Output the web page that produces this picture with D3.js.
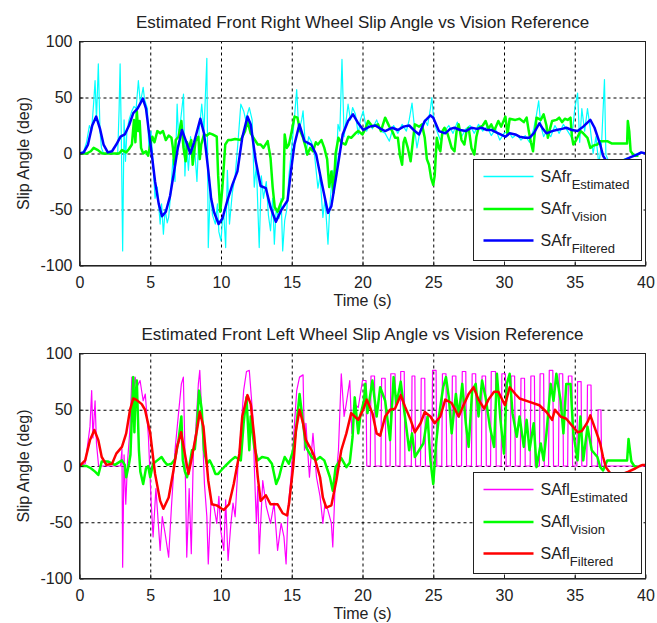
<!DOCTYPE html>
<html>
<head>
<meta charset="utf-8">
<script src="https://cdn.jsdelivr.net/npm/d3@7/dist/d3.min.js"></script>
<style>
  body { margin: 0; background: #fff; }
  svg text { font-family: "Liberation Sans", Arial, sans-serif; fill: #222; }
</style>
</head>
<body>
<div id="chart"></div>
<script>
// Data as [time (s), slip angle (deg)]
var xTicks = [0, 5, 10, 15, 20, 25, 30, 35, 40];
var yTicks = [-100, -50, 0, 50, 100];

var frEstimated = [[0,0],[0.3,2],[0.5,10],[0.7,25],[0.85,20],[1.0,45],[1.1,65],[1.2,30],[1.33,80],[1.45,20],[1.55,5],[1.7,0],[2.7,0],[2.8,40],[2.87,80],[2.95,20],[3.05,-87],[3.15,30],[3.25,-7],[3.35,20],[3.5,30],[3.7,38],[3.85,42],[4.0,40],[4.16,65],[4.3,45],[4.5,59],[4.6,48],[4.8,40],[4.9,5],[5.05,20],[5.2,-10],[5.34,-40],[5.5,-30],[5.7,-63],[5.8,-45],[5.93,-72],[6.05,-50],[6.2,-62],[6.3,-57],[6.45,-35],[6.6,-5],[6.75,-25],[6.9,44],[7.0,15],[7.15,30],[7.35,53],[7.45,-20],[7.55,10],[7.7,-15],[7.85,15],[8.0,-5],[8.1,10],[8.3,-25],[8.45,20],[8.64,44],[8.8,20],[9.0,85],[9.1,-84],[9.25,-30],[9.4,-55],[9.6,-63],[9.75,-45],[9.85,-70],[10.0,-78],[10.1,-60],[10.2,-55],[10.33,-84],[10.45,-15],[10.6,-63],[10.8,-35],[11.0,-20],[11.2,10],[11.4,44],[11.6,38],[11.75,30],[12.0,41],[12.2,30],[12.35,-30],[12.5,-10],[12.7,-84],[12.85,-20],[13.0,-40],[13.2,-25],[13.35,-55],[13.5,-69],[13.65,-40],[13.77,-81],[13.9,-50],[14.1,-58],[14.25,-40],[14.36,-87],[14.5,-60],[14.65,-50],[14.8,-20],[15.0,5],[15.19,32],[15.35,57],[15.5,20],[15.7,30],[15.8,38],[16.0,0],[16.2,15],[16.4,10],[16.6,0],[16.85,-31],[17.0,-20],[17.2,-57],[17.35,-40],[17.56,-81],[17.7,-45],[17.9,-15],[18.1,-25],[18.27,26],[18.4,20],[18.55,84],[18.7,15],[18.98,44],[19.15,30],[19.3,41],[19.5,35],[19.7,17],[19.85,30],[20.05,38],[20.3,20],[20.5,28],[20.7,22],[21.0,30],[21.3,20],[21.6,18],[21.9,11],[22.2,25],[22.5,18],[22.8,26],[23.1,20],[23.3,30],[23.5,45],[23.7,20],[23.85,5],[24.1,22],[24.4,30],[24.6,25],[24.8,40],[24.9,50],[25.0,35],[25.2,22],[25.5,12],[25.8,20],[26.1,25],[26.4,18],[26.7,28],[27.0,15],[27.3,22],[27.6,25],[27.9,18],[28.2,26],[28.5,20],[28.8,24],[29.1,16],[29.4,22],[29.7,12],[30.0,18],[30.3,20],[30.6,14],[30.9,17],[31.2,12],[31.5,16],[31.8,10],[32.1,22],[32.3,35],[32.45,47],[32.6,25],[32.8,15],[33.0,20],[33.3,15],[33.6,25],[33.9,18],[34.2,26],[34.5,20],[34.8,14],[35.0,40],[35.2,54],[35.35,10],[35.5,40],[35.7,20],[35.9,40],[36.1,22],[36.3,0],[36.5,15],[36.7,-10],[36.9,10],[37.1,66],[37.2,-1],[37.5,-10],[38.0,-8],[38.5,-5],[39.0,-3],[39.4,0],[40,0]];

var frVision = [[0,0],[0.5,0],[0.8,2],[1.0,5],[1.3,3],[1.6,0],[2.8,0],[3.0,3],[3.3,1],[3.5,4],[3.7,8],[3.85,30],[3.95,10],[4.05,38],[4.15,20],[4.25,29],[4.35,5],[4.5,0],[4.7,2],[4.85,-2],[5.0,8],[5.15,15],[5.3,10],[5.5,20],[5.7,18],[5.9,20],[6.1,12],[6.3,16],[6.5,14],[6.6,5],[6.7,-10],[6.8,12],[7.0,15],[7.2,29],[7.35,5],[7.5,-7],[7.6,10],[7.7,5],[7.9,12],[8.0,-10],[8.2,11],[8.4,15],[8.5,-5],[8.6,8],[8.8,17],[9.0,16],[9.2,18],[9.4,17],[9.7,15],[9.8,-20],[9.95,-52],[10.1,-30],[10.3,8],[10.5,12],[10.7,12],[11.0,13],[11.4,12],[11.7,20],[11.87,29],[12.1,18],[12.3,14],[12.6,8],[12.8,8],[13.0,5],[13.3,11],[13.5,-4],[13.65,-30],[13.8,-48],[14.0,-52],[14.2,-45],[14.4,-40],[14.5,17],[14.65,5],[14.8,8],[15.0,20],[15.2,33],[15.4,32],[15.6,20],[15.8,14],[16.0,5],[16.1,-1],[16.3,5],[16.5,2],[16.7,10],[16.85,8],[17.1,12],[17.3,5],[17.5,-5],[17.65,-30],[17.8,-16],[17.95,-35],[18.1,0],[18.3,14],[18.5,10],[18.8,8],[19.0,15],[19.2,14],[19.5,18],[19.7,20],[20.0,17],[20.2,22],[20.4,29],[20.7,24],[21.1,26],[21.3,20],[21.6,32],[21.9,24],[22.1,20],[22.3,14],[22.5,14],[22.65,-2],[22.8,-10],[22.9,10],[23.0,14],[23.2,5],[23.4,-7],[23.55,10],[23.7,26],[24.0,24],[24.2,26],[24.4,14],[24.55,-5],[24.7,-10],[24.85,-22],[25.0,-28],[25.1,-20],[25.25,14],[25.4,5],[25.5,2],[25.65,20],[25.8,23],[26.0,18],[26.1,14],[26.3,5],[26.5,2],[26.65,20],[26.8,26],[27.0,12],[27.2,8],[27.35,20],[27.5,23],[27.7,5],[27.9,-1],[28.05,15],[28.2,23],[28.5,25],[28.7,29],[28.9,22],[29.1,26],[29.3,20],[29.6,29],[29.8,24],[30.1,33],[30.25,17],[30.4,31],[30.8,30],[31.1,31],[31.4,28],[31.6,32],[31.75,20],[31.9,10],[32.05,2],[32.15,15],[32.3,32],[32.6,30],[32.8,35],[33.0,25],[33.1,14],[33.25,22],[33.4,29],[33.7,30],[33.9,32],[34.1,28],[34.3,31],[34.5,30],[34.7,32],[34.8,15],[34.9,8],[35.1,12],[35.4,20],[35.6,18],[35.9,14],[36.1,5],[36.3,7],[36.6,8],[36.8,11],[37.1,11],[37.3,11],[37.6,9],[38.0,9],[38.4,9],[38.7,9],[38.75,29],[38.85,20],[38.95,2],[39.2,-2],[39.5,-2]];

var frFiltered = [[0,0],[0.3,1],[0.6,8],[0.9,25],[1.18,33],[1.45,22],[1.7,8],[2.0,1],[2.3,2],[2.6,8],[2.9,15],[3.2,17],[3.5,25],[3.8,36],[4.1,40],[4.48,49],[4.7,40],[4.9,20],[5.1,0],[5.34,-25],[5.6,-45],[5.83,-56],[6.1,-52],[6.4,-38],[6.7,-15],[6.95,5],[7.24,21],[7.5,12],[7.83,0],[8.1,10],[8.54,31],[8.8,18],[9.1,-15],[9.3,-40],[9.5,-52],[9.83,-63],[10.1,-58],[10.45,-42],[10.8,-28],[11.16,-16],[11.5,14],[11.87,33],[12.1,26],[12.46,-7],[12.8,-29],[13.17,-31],[13.5,-48],[13.88,-61],[14.24,-51],[14.7,-42],[14.95,-15],[15.19,8],[15.54,26],[15.9,11],[16.38,8],[16.73,-1],[17.1,-25],[17.56,-53],[17.8,-47],[18.27,-10],[18.6,17],[18.98,29],[19.33,35],[19.7,27],[20.06,21],[20.5,24],[20.9,25],[21.3,22],[21.6,20],[22.1,23],[22.5,21],[22.9,24],[23.3,25],[23.7,20],[24.0,17],[24.4,29],[24.8,34],[25.0,32],[25.4,20],[25.85,18],[26.2,22],[26.5,23],[26.9,21],[27.3,20],[27.7,23],[28.1,22],[28.4,23],[28.8,21],[29.1,21],[29.6,18],[30.1,15],[30.4,18],[30.8,17],[31.1,15],[31.5,14],[31.8,14],[32.1,18],[32.5,27],[32.75,22],[33.0,18],[33.4,20],[33.7,21],[34.1,22],[34.4,23],[34.8,21],[35.2,20],[35.6,24],[36.1,30],[36.4,23],[36.8,8],[37.0,-2],[37.5,-12],[38.0,-10],[38.5,-6],[39.0,-3],[39.4,-1],[39.7,1],[40,0]];

var flEstimated = [[0,0],[0.4,2],[0.74,35],[0.86,67],[0.95,25],[1.1,58],[1.2,20],[1.35,0],[2.9,0],[3.0,15],[3.05,-90],[3.15,10],[3.27,-34],[3.4,5],[3.55,30],[3.7,79],[3.8,60],[3.93,79],[4.05,70],[4.28,76],[4.5,58],[4.65,64],[4.87,26],[5.06,-31],[5.2,-63],[5.4,-20],[5.7,-75],[5.85,-45],[6.05,-60],[6.3,-81],[6.5,-36],[6.75,14],[7.0,47],[7.2,73],[7.34,79],[7.45,14],[7.58,-81],[7.75,-20],[7.9,-78],[8.05,14],[8.2,29],[8.4,73],[8.5,85],[8.65,44],[8.83,-16],[9.0,-45],[9.1,-87],[9.3,-30],[9.5,-36],[9.7,-51],[9.85,-27],[9.98,-57],[10.2,-75],[10.33,-30],[10.5,-84],[10.7,-51],[10.85,-33],[11.0,-45],[11.2,0],[11.4,29],[11.6,67],[11.8,84],[12.0,85],[12.25,44],[12.38,-10],[12.5,-51],[12.6,-18],[12.7,-78],[12.95,-13],[13.2,-36],[13.5,-51],[13.75,-33],[14.0,-75],[14.25,-51],[14.45,-63],[14.6,-87],[14.75,-36],[14.95,-10],[15.15,29],[15.35,67],[15.55,79],[15.8,81],[15.9,14],[16.0,38],[16.25,-10],[16.5,29],[16.75,-10],[17.0,-27],[17.2,-51],[17.35,-33],[17.55,-39],[17.8,-51],[17.9,-72],[18.05,-22],[18.3,14],[18.5,82],[18.7,44],[18.85,55],[19.1,76],[19.25,29],[19.45,55],[19.7,52],[20.0,76],[20.25,76],[20.3,0],[20.55,0],[20.6,80],[20.85,80],[20.9,0],[21.3,0],[21.35,78],[21.6,78],[21.65,0],[21.95,0],[22.0,82],[22.3,82],[22.35,0],[22.65,0],[22.7,84],[22.95,84],[23.0,0],[23.45,0],[23.5,80],[23.7,80],[23.75,0],[24.1,0],[24.15,78],[24.4,78],[24.45,0],[24.9,0],[24.95,85],[25.2,85],[25.25,0],[25.6,0],[25.65,82],[25.9,82],[25.95,0],[26.3,0],[26.35,80],[26.6,80],[26.65,0],[27.0,0],[27.05,84],[27.3,84],[27.35,0],[27.7,0],[27.75,82],[28.0,82],[28.05,0],[28.4,0],[28.45,80],[28.7,80],[28.75,0],[29.05,0],[29.1,84],[29.4,84],[29.45,0],[29.8,0],[29.85,82],[30.1,82],[30.15,0],[30.45,0],[30.5,80],[30.75,80],[30.8,0],[31.15,0],[31.2,78],[31.45,78],[31.5,0],[31.85,0],[31.9,80],[32.15,80],[32.2,0],[32.5,0],[32.55,82],[32.8,82],[32.85,0],[33.15,0],[33.2,85],[33.45,85],[33.5,0],[33.85,0],[33.9,82],[34.15,82],[34.2,0],[34.5,0],[34.55,80],[34.8,80],[34.85,0],[35.15,0],[35.2,75],[35.45,75],[35.5,0],[35.85,0],[35.9,72],[36.15,72],[36.2,0],[36.6,0],[36.65,50],[36.85,50],[36.9,0],[40,0]];

var flVision = [[0,0],[0.5,0],[0.8,-2],[1.1,-5],[1.33,-8],[1.45,-2],[1.57,4],[2.0,4],[2.5,1],[3.0,5],[3.2,1],[3.3,-10],[3.5,2],[3.6,10],[3.7,44],[3.8,79],[3.88,30],[3.95,60],[4.05,76],[4.2,14],[4.3,-5],[4.5,-16],[4.7,-2],[4.85,0],[5.0,-10],[5.2,2],[5.5,5],[5.8,8],[6.0,4],[6.2,1],[6.5,2],[6.75,6],[7.0,23],[7.2,44],[7.3,5],[7.45,-5],[7.6,-10],[7.75,-1],[7.95,14],[8.15,15],[8.3,35],[8.45,67],[8.64,50],[8.8,14],[9.0,2],[9.2,5],[9.4,0],[9.6,-7],[9.8,-7],[10.0,-4],[10.3,0],[10.7,5],[11.0,8],[11.4,5],[11.6,38],[11.8,61],[12.0,14],[12.1,44],[12.35,17],[12.6,5],[12.9,8],[13.3,7],[13.6,2],[13.8,-10],[13.9,-16],[14.1,-10],[14.3,0],[14.5,8],[14.8,2],[15.1,14],[15.3,32],[15.55,64],[15.8,38],[16.0,17],[16.4,8],[16.7,5],[17.0,8],[17.3,5],[17.7,-10],[17.9,-22],[18.1,-1],[18.5,7],[18.86,-1],[19.1,3],[19.3,26],[19.45,61],[19.7,29],[19.85,45],[20.1,58],[20.2,73],[20.35,47],[20.7,76],[21.0,44],[21.25,70],[21.6,58],[21.95,23],[22.2,79],[22.4,55],[22.7,75],[23.0,44],[23.3,14],[23.5,29],[23.7,8],[24.0,14],[24.3,20],[24.6,44],[24.8,5],[25.0,-16],[25.2,20],[25.4,44],[25.7,70],[25.9,79],[26.1,61],[26.3,29],[26.6,64],[26.8,44],[27.05,73],[27.3,38],[27.5,17],[27.75,67],[28.0,73],[28.2,44],[28.45,76],[28.7,61],[29.0,35],[29.3,17],[29.5,82],[29.75,41],[30.0,11],[30.2,73],[30.4,82],[30.6,47],[30.9,26],[31.1,44],[31.4,17],[31.6,41],[31.8,14],[32.1,38],[32.3,-1],[32.6,20],[32.8,5],[33.0,29],[33.3,73],[33.5,58],[33.7,82],[34.0,58],[34.2,29],[34.4,73],[34.7,73],[34.9,29],[35.2,5],[35.4,44],[35.6,5],[35.9,35],[36.2,14],[36.6,8],[36.8,-1],[37.0,-4],[37.3,5],[37.5,5],[38.2,5],[38.7,5],[38.8,24],[39.0,4],[39.2,0],[39.5,-1]];

var flFiltered = [[0,0],[0.4,5],[0.74,23],[1.05,32],[1.33,23],[1.57,8],[1.9,1],[2.3,2],[2.6,11],[3.0,17],[3.3,29],[3.57,50],[3.8,60],[4.0,59],[4.4,55],[4.63,50],[5.0,29],[5.34,-7],[5.7,-31],[5.93,-38],[6.3,-28],[6.64,-4],[6.9,17],[7.18,30],[7.4,14],[7.7,-7],[7.9,5],[8.3,32],[8.5,48],[8.76,35],[9.1,-13],[9.35,-34],[9.7,-35],[10.06,-38],[10.2,-39],[10.57,-34],[10.9,-16],[11.3,11],[11.5,44],[11.87,63],[12.1,55],[12.35,26],[12.6,-10],[12.8,-31],[13.17,-26],[13.5,-34],[14.0,-34],[14.36,-42],[14.67,-44],[14.8,-34],[15.1,-1],[15.3,32],[15.55,50],[15.8,38],[16.0,23],[16.4,14],[16.6,8],[17.0,-10],[17.2,-28],[17.44,-37],[17.8,-35],[18.15,-13],[18.5,14],[18.86,29],[19.2,47],[19.45,44],[19.7,41],[20.05,50],[20.3,59],[20.7,47],[21.0,29],[21.25,27],[21.6,44],[21.95,50],[22.3,51],[22.7,63],[23.0,53],[23.4,41],[23.7,30],[24.1,38],[24.4,48],[24.8,44],[25.1,38],[25.5,44],[25.85,59],[26.3,56],[26.8,44],[27.1,53],[27.5,64],[27.85,70],[28.2,59],[28.6,51],[28.9,59],[29.3,66],[29.6,66],[30.07,54],[30.4,70],[30.8,64],[31.1,60],[31.8,57],[32.5,54],[33.0,48],[33.4,41],[33.6,50],[34.0,44],[34.4,42],[34.8,36],[35.2,30],[35.5,31],[35.9,39],[36.1,45],[36.5,31],[36.8,20],[37.0,8],[37.2,-1],[37.6,-8],[38.2,-8],[38.8,-5],[39.3,-2],[39.6,0],[39.8,1],[40,1]];

var W = 657, H = 623;
var svg = d3.select("#chart").append("svg")
    .attr("width", W)
    .attr("height", H);

var x = d3.scaleLinear().domain([0, 40]).range([79.5, 645.5]);
var plain = function (d) { return String(d); };  // hyphen minus, like the original

function drawPanel(p) {
    var y = d3.scaleLinear().domain([-100, 100]).range([p.bottom, p.top]);
    var g = svg.append("g");
    var clipId = "clip" + p.id;

    g.append("clipPath").attr("id", clipId)
        .append("rect")
        .attr("x", x(0)).attr("y", p.top)
        .attr("width", x(40) - x(0)).attr("height", p.bottom - p.top);

    // grid
    g.append("g")
        .attr("transform", "translate(0," + p.bottom + ")")
        .call(d3.axisBottom(x).tickValues([5, 10, 15, 20, 25, 30, 35]).tickSize(-(p.bottom - p.top)).tickFormat(""))
        .call(function (s) { s.select(".domain").remove(); })
        .selectAll("line").attr("stroke", "#000").attr("stroke-dasharray", "3,3");
    g.append("g")
        .attr("transform", "translate(" + x(0) + ",0)")
        .call(d3.axisLeft(y).tickValues([-50, 0, 50]).tickSize(-(x(40) - x(0))).tickFormat(""))
        .call(function (s) { s.select(".domain").remove(); })
        .selectAll("line").attr("stroke", "#000").attr("stroke-dasharray", "3,3");

    // series
    var line = d3.line()
        .x(function (d) { return x(d[0]); })
        .y(function (d) { return y(d[1]); });

    var lines = g.append("g").attr("clip-path", "url(#" + clipId + ")");
    p.series.forEach(function (s) {
        lines.append("path")
            .datum(s.data)
            .attr("fill", "none")
            .attr("stroke", s.color)
            .attr("stroke-width", s.width)
            .attr("stroke-linejoin", "round")
            .attr("d", line);
    });

    // axes
    var xAxis = g.append("g")
        .attr("transform", "translate(0," + p.bottom + ")")
        .call(d3.axisBottom(x).tickValues(xTicks).tickFormat(plain).tickSizeInner(-4).tickSizeOuter(0).tickPadding(8));
    var yAxis = g.append("g")
        .attr("transform", "translate(" + x(0) + ",0)")
        .call(d3.axisLeft(y).tickValues(yTicks).tickFormat(plain).tickSizeInner(-4).tickSizeOuter(0).tickPadding(7));
    [xAxis, yAxis].forEach(function (a) {
        a.selectAll("text").attr("font-size", 16).attr("fill", "#222")
            .style("font-family", "'Liberation Sans', Arial, sans-serif");
        a.selectAll("line").attr("stroke", "#222");
    });
    xAxis.selectAll("text").attr("dy", "0.9em");

    g.append("rect")
        .attr("x", x(0)).attr("y", p.top)
        .attr("width", x(40) - x(0)).attr("height", p.bottom - p.top)
        .attr("fill", "none").attr("stroke", "#222").attr("stroke-width", 1);

    // labels
    g.append("text")
        .attr("x", (x(0) + x(40)) / 2).attr("y", p.top - 14)
        .attr("text-anchor", "middle").attr("font-size", 17)
        .text(p.title);
    g.append("text")
        .attr("x", (x(0) + x(40)) / 2).attr("y", p.bottom + 40)
        .attr("text-anchor", "middle").attr("font-size", 16)
        .text("Time (s)");
    g.append("text")
        .attr("transform", "translate(29," + (p.top + p.bottom) / 2 + ") rotate(-90)")
        .attr("text-anchor", "middle").attr("font-size", 16)
        .text("Slip Angle (deg)");

    // legend
    var lg = g.append("g").attr("transform", "translate(473.5," + p.legendTop + ")");
    lg.append("rect")
        .attr("width", 168).attr("height", 101)
        .attr("fill", "#fff").attr("stroke", "#222").attr("stroke-width", 1);
    var rowY = [17, 49.5, 81];
    p.series.forEach(function (s, i) {
        lg.append("path")
            .attr("d", "M10," + rowY[i] + "H60")
            .attr("fill", "none")
            .attr("stroke", s.color)
            .attr("stroke-width", Math.max(s.width, 1.5));
        var t = lg.append("text")
            .attr("x", 67).attr("y", rowY[i] + 5)
            .attr("font-size", 16);
        t.append("tspan").text(p.prefix);
        t.append("tspan").attr("dy", 7).attr("font-size", 13).text(s.sub);
    });
}

drawPanel({
    id: "fr", top: 41.5, bottom: 265.5, legendTop: 159.5,
    title: "Estimated Front Right Wheel Slip Angle vs Vision Reference",
    prefix: "SAfr",
    series: [
        { data: frEstimated, color: "#00ffff", width: 1.2, sub: "Estimated" },
        { data: frVision, color: "#00ff00", width: 2.5, sub: "Vision" },
        { data: frFiltered, color: "#0000ff", width: 2.5, sub: "Filtered" }
    ]
});

drawPanel({
    id: "fl", top: 353.5, bottom: 578.5, legendTop: 472.5,
    title: "Estimated Front Left Wheel Slip Angle vs Vision Reference",
    prefix: "SAfl",
    series: [
        { data: flEstimated, color: "#ff00ff", width: 1.2, sub: "Estimated" },
        { data: flVision, color: "#00ff00", width: 2.5, sub: "Vision" },
        { data: flFiltered, color: "#ff0000", width: 2.5, sub: "Filtered" }
    ]
});
</script>
</body>
</html>
